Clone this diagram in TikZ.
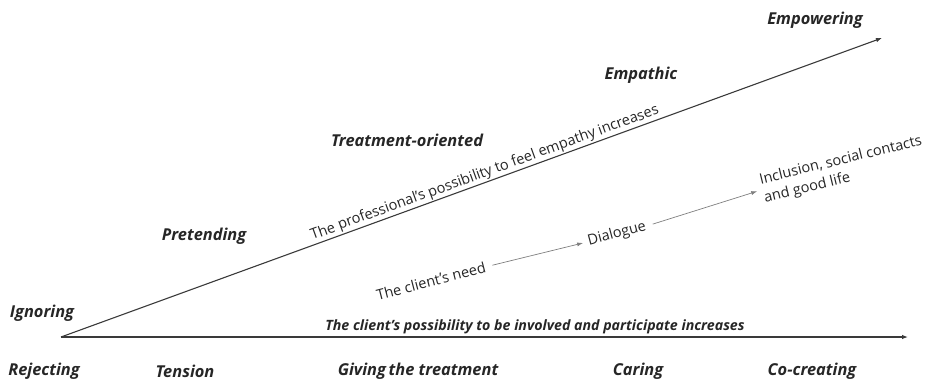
\documentclass[tikz,border=0pt]{standalone}
\usepackage{fontspec}
\setmainfont{Open Sans}
\usetikzlibrary{arrows.meta}
\definecolor{ink}{HTML}{262626}
\definecolor{axis}{HTML}{3A3A3A}
\definecolor{thin}{HTML}{7F7F7F}
\begin{document}
\begin{tikzpicture}[x=1pt,y=1pt,
  stage/.style={font=\fontsize{16.4}{18}\selectfont\bfseries\itshape, text=ink, inner sep=0pt},
  axisline/.style={draw=axis, line width=1.1pt, -{Latex[length=6pt,width=4.5pt]}},
  plain/.style={font=\fontsize{14.5}{16}\selectfont, text=ink, inner sep=0pt},
  small/.style={draw=thin, line width=0.7pt, -{Latex[length=6pt,width=4pt]}, shorten <=7pt, shorten >=5pt}]
\useasboundingbox (0,0) rectangle (941,-380);
\coordinate (O) at (61,-337);
\coordinate (E) at (882,-38);
\coordinate (H) at (908,-337);
\draw[axisline] (O) -- (E);
\draw[axisline] (O) -- (H);
% stage labels
\node[stage] (empw) at (815,-20) {Empowering};
\node[stage] (empa) at (641,-75) {Empathic};
\node[stage] (treat) at (407,-140) {Treatment-oriented};
\node[stage] (pret) at (204,-236) {Pretending};
\node[stage] (ign) at (42,-313) {Ignoring};
\node[stage] (rej) at (44,-371) {Rejecting};
\node[stage] (ten) at (185,-371) {Tension};
\node[stage] (giv) at (418,-371) {Giving\,the treatment};
\node[stage] (car) at (638,-371) {Caring};
\node[stage] (cocr) at (812,-371) {Co-creating};
% axis captions
\node[font=\fontsize{14.2}{16}\selectfont\bfseries\itshape, text=ink, inner sep=0pt] (hcap) at (535,-327) {The client’s possibility to be involved and participate increases};
\path (O) -- (E) node[plain, pos=0.52, sloped, above=1.5pt] (dcap) {The professional’s possibility to feel empathy increases};
% process
\node[plain, rotate=14.5] (need) at (431,-281) {The client’s need};
\node[plain, rotate=15] (dia) at (617,-234) {Dialogue};
\node[plain, rotate=13.7, align=left, font=\fontsize{14.5}{19}\selectfont] (inc) at (843,-170) {Inclusion, social contacts\\and good life};
\draw[small] (need.east) -- (dia.west);
\draw[small] (dia.east) -- (inc.west);
\end{tikzpicture}
\end{document}
